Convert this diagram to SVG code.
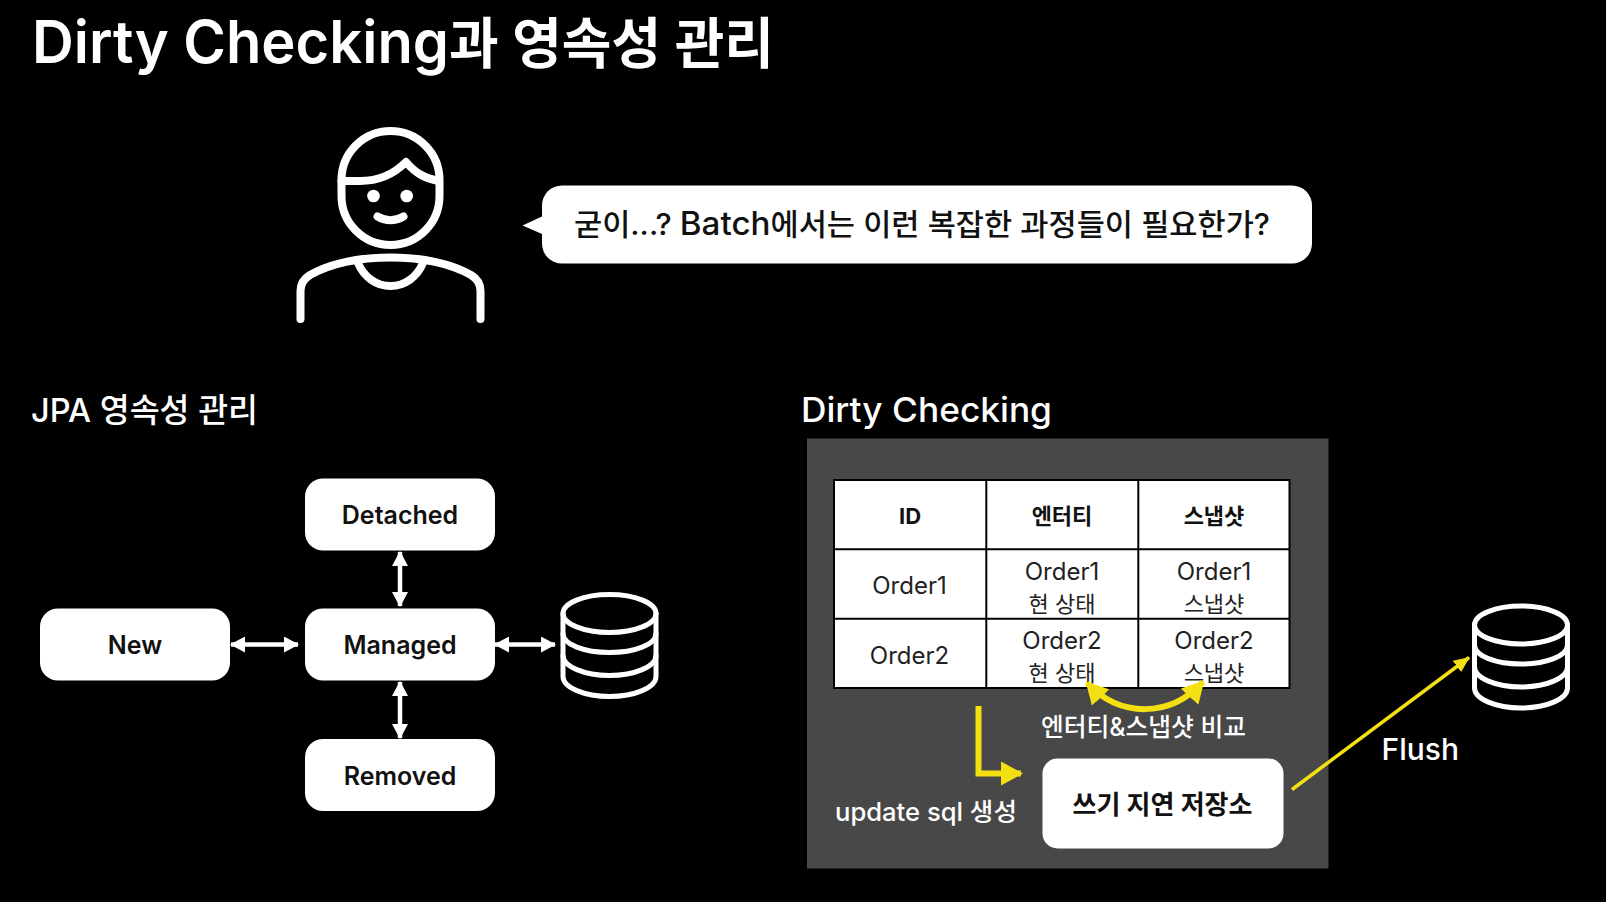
<svg xmlns="http://www.w3.org/2000/svg" width="1606" height="902" viewBox="0 0 1606 902">
<style>
text{font-family:Inter,"Noto Sans CJK KR","Noto Sans",sans-serif;}
.w{fill:#fff}
.k{fill:#111}
.m{text-anchor:middle}
.node{fill:#fff}
.nl{font-size:25px;font-weight:600;fill:#111;text-anchor:middle}
.ic{fill:none;stroke:#fff;stroke-linecap:round;stroke-linejoin:round}
.c{font-size:24px;fill:#222;text-anchor:middle}
.ck{font-size:22px;fill:#222;text-anchor:middle}
.h{font-size:22px;font-weight:700;fill:#111;text-anchor:middle}
.g{fill:none;stroke:#000;stroke-width:2}
.a{stroke:#fff;stroke-width:4.500;fill:none;marker-start:url(#wh);marker-end:url(#wh)}
.y{fill:none;stroke:#f3df12}
</style>
<defs>
<marker id="wh" viewBox="0 0 15 16" refX="14" refY="8" markerWidth="15" markerHeight="16" markerUnits="userSpaceOnUse" orient="auto-start-reverse"><path d="M0 0L15 8L0 16Z" fill="#fff"/></marker>
<marker id="yh" viewBox="0 0 22 24" refX="20" refY="12" markerWidth="22" markerHeight="24" markerUnits="userSpaceOnUse" orient="auto-start-reverse"><path d="M0 0L22 12L0 24Z" fill="#f3df12"/></marker>
<marker id="yf" viewBox="0 0 16 14" refX="15" refY="7" markerWidth="16" markerHeight="14" markerUnits="userSpaceOnUse" orient="auto"><path d="M0 0L16 7L0 14Z" fill="#f3df12"/></marker>
<g id="db"><g class="ic" stroke-width="5"><ellipse cx="0" cy="0" rx="46.5" ry="19"/><path d="M-46.5 0V63C-46.5 74 -25 83 0 83S46.5 74 46.5 63V0"/><path d="M-46.5 20C-46.5 31 -25 39 0 39S46.5 31 46.5 20"/><path d="M-46.5 42C-46.5 53 -25 62 0 62S46.5 53 46.5 42"/></g></g>
</defs>
<rect width="1606" height="902" fill="#000"/>
<text id="title" x="32" y="63" class="w" font-size="55" font-weight="600" textLength="742" lengthAdjust="spacingAndGlyphs"><tspan font-size="59">Dirty Checking</tspan>과 영속성 관리</text>
<g id="person" class="ic" stroke-width="8">
<rect x="341.5" y="131" width="98" height="114" rx="49" ry="49"/>
<path d="M341.5 181H360C380 181 394 174 406 162C416 174 425 178 439 181"/>
<path d="M377.5 216.500Q390.500 224 403.500 216.500"/>
<circle cx="373.500" cy="196" r="6.300" fill="#fff" stroke="none"/>
<circle cx="406.700" cy="196" r="6.300" fill="#fff" stroke="none"/>
<path d="M300.500 319V291C300.500 283 305 278 310 275C335 261 362 257.500 390.500 257.500S446 261 471 275C476 278 480.500 283 480.500 291V319"/>
<path d="M358 263C364 277 376 286 390.500 286S417 277 423 263"/>
</g>
<g id="bubble">
<path d="M542 216.500L522.500 225.500L542 234Z" fill="#fff"/>
<rect x="542" y="185.500" width="770" height="78" rx="20" fill="#fff"/>
<text x="574" y="235" class="k" font-size="30" font-weight="500" textLength="696" lengthAdjust="spacingAndGlyphs">굳이...? <tspan font-size="32.500">Batch</tspan>에서는 이런 복잡한 과정들이 필요한가?</text>
</g>
<text id="label-jpa" x="31" y="422" class="w" font-size="33" font-weight="500" textLength="227" lengthAdjust="spacingAndGlyphs">JPA 영속성 관리</text>
<text id="label-dirty" x="801" y="422" class="w" font-size="34" font-weight="500" textLength="251" lengthAdjust="spacingAndGlyphs">Dirty Checking</text>
<g id="node-detached"><rect class="node" x="305" y="478.500" width="190" height="72" rx="18"/><text class="nl" x="400" y="524">Detached</text></g>
<g id="node-new"><rect class="node" x="40" y="608.500" width="190" height="72" rx="18"/><text class="nl" x="135" y="654">New</text></g>
<g id="node-managed"><rect class="node" x="305" y="608.500" width="190" height="72" rx="18"/><text class="nl" x="400" y="654">Managed</text></g>
<g id="node-removed"><rect class="node" x="305" y="739" width="190" height="72" rx="18"/><text class="nl" x="400" y="785">Removed</text></g>
<use id="db-left" href="#db" x="609.500" y="613.500"/>
<rect id="panel" x="807" y="438.500" width="521.500" height="430" fill="#484848"/>
<g id="table">
<rect x="834" y="480" width="455.500" height="208" fill="#fff"/>
<path class="g" d="M834 480H1289.500V688H834ZM986.300 480V688M1138.300 480V688M834 549.300H1289.500M834 618.700H1289.500"/>
<text class="h" x="910" y="524">ID</text>
<text class="h" x="1062" y="524">엔터티</text>
<text class="h" x="1214" y="524">스냅샷</text>
<text class="c" x="909.500" y="594">Order1</text>
<text class="c" x="1062" y="580">Order1</text>
<text class="ck" x="1062" y="612">현 상태</text>
<text class="c" x="1214" y="580">Order1</text>
<text class="ck" x="1214" y="612">스냅샷</text>
<text class="c" x="909.500" y="664">Order2</text>
<text class="c" x="1062" y="649">Order2</text>
<text class="ck" x="1062" y="681">현 상태</text>
<text class="c" x="1214" y="649">Order2</text>
<text class="ck" x="1214" y="681">스냅샷</text>
</g>
<g id="node-buffer"><rect class="node" x="1042.500" y="758.500" width="241" height="90" rx="15"/><text x="1162.500" y="814" class="m k" font-size="26" font-weight="700" textLength="180" lengthAdjust="spacingAndGlyphs">쓰기 지연 저장소</text></g>
<use id="db-right" href="#db" x="1521" y="625"/>
<g id="connectors">
<path class="a" d="M400 552V606"/>
<path class="a" d="M400 682V738"/>
<path class="a" d="M231 644.500H298"/>
<path class="a" d="M495 644.500H555"/>
<path class="y" stroke-width="6" marker-start="url(#yh)" marker-end="url(#yh)" d="M1087 683C1120 718 1170 718 1203 682"/>
<path class="y" stroke-width="6" marker-end="url(#yh)" d="M978.500 706V773.500H1021"/>
<path class="y" stroke-width="3.500" marker-end="url(#yf)" d="M1292 789.500L1469 657.500"/>
</g>
<text x="1143.500" y="736" class="w m" font-size="25" font-weight="500" textLength="205" lengthAdjust="spacingAndGlyphs">엔터티&amp;스냅샷 비교</text>
<text x="926" y="821" class="w m" font-size="25" font-weight="500" textLength="182" lengthAdjust="spacingAndGlyphs">update sql 생성</text>
<text x="1381.500" y="760" class="w" font-size="30" font-weight="500">Flush</text>
</svg>
